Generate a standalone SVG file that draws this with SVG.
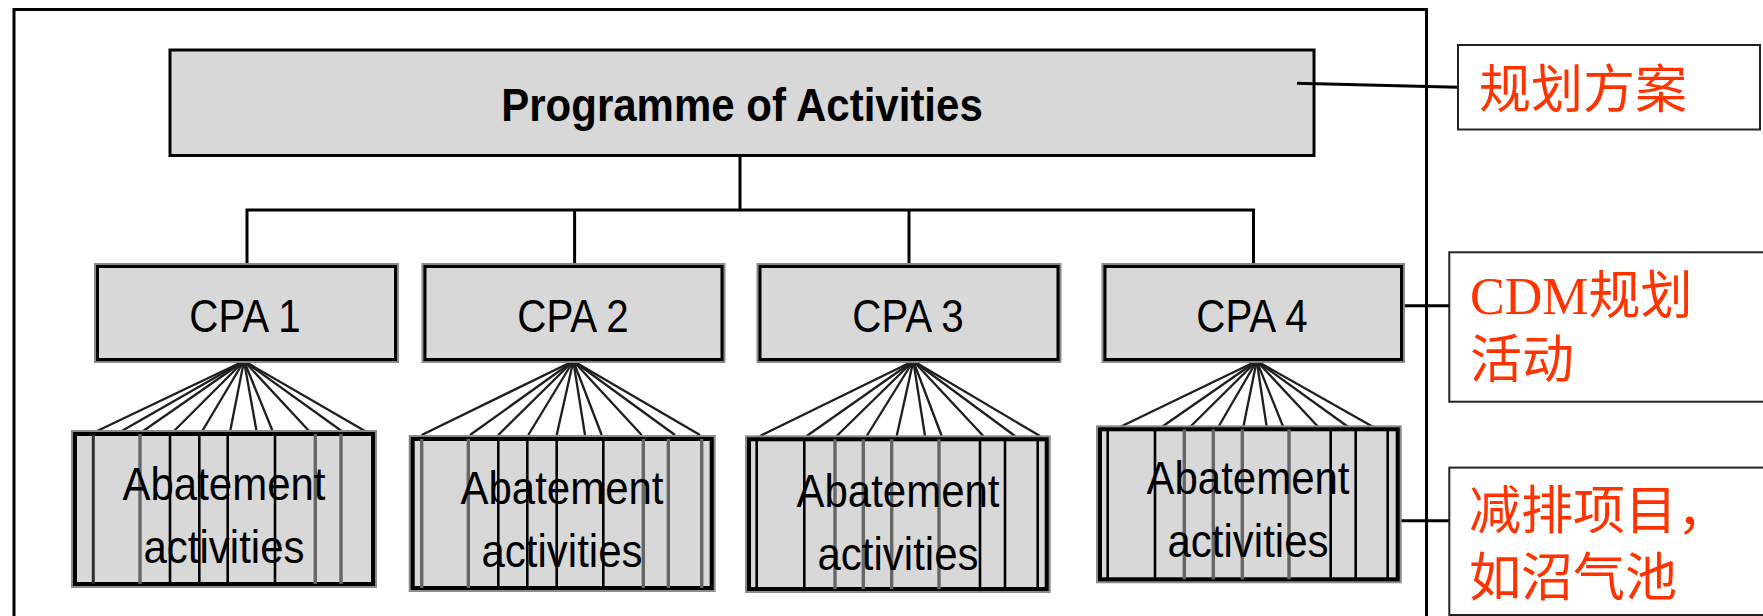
<svg xmlns="http://www.w3.org/2000/svg" width="1763" height="616" viewBox="0 0 1763 616">
<style>
.frame{fill:none;stroke:#000;stroke-width:3}
.box{fill:#d8d8d8;stroke:#000;stroke-width:3}
.shadow{fill:none;stroke:#8a8a8a;stroke-width:7}
.abox{fill:#d8d8d8;stroke:#000;stroke-width:4}
.ashadow{fill:none;stroke:#8c8c8c;stroke-width:8}
.conn{fill:none;stroke:#000;stroke-width:3}
.fan{stroke:#1e1e1e;stroke-width:2.3}
.vb{stroke:#000;stroke-width:2.6}
.vg{stroke:#666;stroke-width:3.4}
.vd{stroke:#2e2e2e;stroke-width:3}
.label{fill:#fff;stroke:#222;stroke-width:2}
.t{font-family:"Liberation Sans",Arial,sans-serif;font-size:42px;fill:#000;text-anchor:middle}
.tb{font-weight:bold}
.zh{font-family:"Liberation Serif","Noto Sans CJK SC",serif;font-size:52px;fill:#ff3300}
</style>

<rect class="frame" x="14" y="9.5" width="1412.5" height="620"/>

<g id="connectors">
  <polyline class="conn" points="740,155 740,210"/>
  <polyline class="conn" points="247,266 247,210 1253.5,210 1253.5,266"/>
  <line class="conn" x1="574.6" y1="210" x2="574.6" y2="266"/>
  <line class="conn" x1="909" y1="210" x2="909" y2="266"/>
  <line class="conn" x1="1297" y1="83.3" x2="1458" y2="87.3"/>
  <line class="conn" x1="1403" y1="305.7" x2="1449" y2="305.7"/>
  <line class="conn" x1="1398" y1="520.7" x2="1457" y2="520.7"/>
  <g id="fan1" class="fan">
    <line x1="244" y1="361" x2="95" y2="432"/><line x1="244" y1="361" x2="120" y2="432"/>
    <line x1="244" y1="361" x2="141.7" y2="432"/><line x1="244" y1="361" x2="173" y2="432"/>
    <line x1="244" y1="361" x2="201.7" y2="432"/><line x1="244" y1="361" x2="230" y2="432"/>
    <line x1="244" y1="361" x2="256.7" y2="432"/><line x1="244" y1="361" x2="273" y2="432"/>
    <line x1="244" y1="361" x2="310" y2="432"/><line x1="244" y1="361" x2="343" y2="432"/>
    <line x1="244" y1="361" x2="366.7" y2="432"/>
  </g>
  <g id="fan2" class="fan">
    <line x1="573.3" y1="361" x2="421.7" y2="435"/><line x1="573.3" y1="361" x2="470" y2="435"/>
    <line x1="573.3" y1="361" x2="498.3" y2="435"/><line x1="573.3" y1="361" x2="528.3" y2="435"/>
    <line x1="573.3" y1="361" x2="556.7" y2="435"/><line x1="573.3" y1="361" x2="585" y2="435"/>
    <line x1="573.3" y1="361" x2="601.7" y2="435"/><line x1="573.3" y1="361" x2="641.7" y2="435"/>
    <line x1="573.3" y1="361" x2="675" y2="435"/><line x1="573.3" y1="361" x2="700" y2="435"/>
  </g>
  <g id="fan3" class="fan">
    <line x1="913.3" y1="361" x2="760" y2="436"/><line x1="913.3" y1="361" x2="806.7" y2="436"/>
    <line x1="913.3" y1="361" x2="836.7" y2="436"/><line x1="913.3" y1="361" x2="866.7" y2="436"/>
    <line x1="913.3" y1="361" x2="896.7" y2="436"/><line x1="913.3" y1="361" x2="925" y2="436"/>
    <line x1="913.3" y1="361" x2="941.7" y2="436"/><line x1="913.3" y1="361" x2="983.3" y2="436"/>
    <line x1="913.3" y1="361" x2="1015" y2="436"/><line x1="913.3" y1="361" x2="1040" y2="436"/>
  </g>
  <g id="fan4" class="fan">
    <line x1="1256.7" y1="361" x2="1120" y2="427"/><line x1="1256.7" y1="361" x2="1161.7" y2="427"/>
    <line x1="1256.7" y1="361" x2="1190" y2="427"/><line x1="1256.7" y1="361" x2="1218.3" y2="427"/>
    <line x1="1256.7" y1="361" x2="1243.3" y2="427"/><line x1="1256.7" y1="361" x2="1266.7" y2="427"/>
    <line x1="1256.7" y1="361" x2="1283.3" y2="427"/><line x1="1256.7" y1="361" x2="1318.3" y2="427"/>
    <line x1="1256.7" y1="361" x2="1348.3" y2="427"/><line x1="1256.7" y1="361" x2="1373.3" y2="427"/>
  </g>
</g>

<g id="poa">
  <rect class="box" x="170" y="50" width="1144" height="105.5"/>
  <line class="conn" x1="1297" y1="83.3" x2="1314" y2="83.7"/>
  <text class="t tb" transform="translate(742,121) scale(1,1.11)">Programme of Activities</text>
</g>

<g id="cpa1">
  <rect class="shadow" x="97.5" y="266.5" width="298" height="93"/>
  <rect class="box" x="97.5" y="266.5" width="298" height="93"/>
  <text class="t" transform="translate(245,331.7) scale(0.96,1.1)">CPA 1</text>
</g>
<g id="cpa2">
  <rect class="shadow" x="425" y="266.5" width="297" height="93"/>
  <rect class="box" x="425" y="266.5" width="297" height="93"/>
  <text class="t" transform="translate(573,331.7) scale(0.96,1.1)">CPA 2</text>
</g>
<g id="cpa3">
  <rect class="shadow" x="760" y="266.5" width="298" height="93"/>
  <rect class="box" x="760" y="266.5" width="298" height="93"/>
  <text class="t" transform="translate(908,331.7) scale(0.96,1.1)">CPA 3</text>
</g>
<g id="cpa4">
  <rect class="shadow" x="1105" y="266.5" width="296.5" height="93"/>
  <rect class="box" x="1105" y="266.5" width="296.5" height="93"/>
  <text class="t" transform="translate(1252,331.7) scale(0.96,1.1)">CPA 4</text>
</g>

<g id="abate1">
  <rect class="ashadow" x="75" y="434" width="298" height="150" stroke="#c8c8c8"/>
  <rect class="abox" x="75" y="434" width="298" height="150"/>
  <line class="vd" x1="93.3" y1="434" x2="93.3" y2="584"/>
  <line class="vg" x1="140" y1="434" x2="140" y2="584"/>
  <line class="vb" x1="170" y1="434" x2="170" y2="584"/>
  <line class="vb" x1="199.3" y1="434" x2="199.3" y2="584"/>
  <line class="vb" x1="227.7" y1="434" x2="227.7" y2="584"/>
  <line class="vb" x1="275" y1="434" x2="275" y2="584"/>
  <line class="vg" x1="315.3" y1="434" x2="315.3" y2="584"/>
  <line class="vg" x1="341" y1="434" x2="341" y2="584"/>
  <text class="t" transform="translate(224,500) scale(1,1.12)">Abatement</text>
  <text class="t" transform="translate(224,563.3) scale(1,1.12)">activities</text>
</g>
<g id="abate2">
  <rect class="ashadow" x="412.7" y="439" width="299" height="149"/>
  <rect class="abox" x="412.7" y="439" width="299" height="149" stroke="#1a1a1a"/>
  <line class="vg" x1="421.7" y1="439" x2="421.7" y2="588"/>
  <line class="vg" x1="468.3" y1="439" x2="468.3" y2="588"/>
  <line class="vb" x1="498.3" y1="439" x2="498.3" y2="588"/>
  <line class="vb" x1="527.3" y1="439" x2="527.3" y2="588"/>
  <line class="vb" x1="556.7" y1="439" x2="556.7" y2="588"/>
  <line class="vb" x1="603.3" y1="439" x2="603.3" y2="588"/>
  <line class="vg" x1="643.3" y1="439" x2="643.3" y2="588"/>
  <line class="vg" x1="668.3" y1="439" x2="668.3" y2="588"/>
  <line class="vg" x1="701.7" y1="439" x2="701.7" y2="588"/>
  <text class="t" transform="translate(562,504) scale(1,1.12)">Abatement</text>
  <text class="t" transform="translate(562,566.7) scale(1,1.12)">activities</text>
</g>
<g id="abate3">
  <rect class="ashadow" x="749" y="439.3" width="297.7" height="149.7"/>
  <rect class="abox" x="749" y="439.3" width="297.7" height="149.7" stroke="#1a1a1a"/>
  <line class="vb" x1="756.7" y1="439.3" x2="756.7" y2="589"/>
  <line class="vb" x1="804.3" y1="439.3" x2="804.3" y2="589"/>
  <line class="vg" x1="835" y1="439.3" x2="835" y2="589"/>
  <line class="vg" x1="863.3" y1="439.3" x2="863.3" y2="589"/>
  <line class="vg" x1="891.7" y1="439.3" x2="891.7" y2="589"/>
  <line class="vg" x1="939" y1="439.3" x2="939" y2="589"/>
  <line class="vb" x1="980" y1="439.3" x2="980" y2="589"/>
  <line class="vb" x1="1005" y1="439.3" x2="1005" y2="589"/>
  <line class="vb" x1="1037.7" y1="439.3" x2="1037.7" y2="589"/>
  <text class="t" transform="translate(898,506.7) scale(1,1.12)">Abatement</text>
  <text class="t" transform="translate(898,570) scale(1,1.12)">activities</text>
</g>
<g id="abate4">
  <rect class="ashadow" x="1100" y="429.3" width="297.7" height="150"/>
  <rect class="abox" x="1100" y="429.3" width="297.7" height="150"/>
  <line class="vb" x1="1107.7" y1="429.3" x2="1107.7" y2="579.3"/>
  <line class="vb" x1="1155" y1="429.3" x2="1155" y2="579.3"/>
  <line class="vg" x1="1184.3" y1="429.3" x2="1184.3" y2="579.3"/>
  <line class="vg" x1="1213.3" y1="429.3" x2="1213.3" y2="579.3"/>
  <line class="vg" x1="1242.3" y1="429.3" x2="1242.3" y2="579.3"/>
  <line class="vg" x1="1289" y1="429.3" x2="1289" y2="579.3"/>
  <line class="vb" x1="1330.7" y1="429.3" x2="1330.7" y2="579.3"/>
  <line class="vb" x1="1355.7" y1="429.3" x2="1355.7" y2="579.3"/>
  <line class="vb" x1="1387.7" y1="429.3" x2="1387.7" y2="579.3"/>
  <text class="t" transform="translate(1248,494) scale(1,1.12)">Abatement</text>
  <text class="t" transform="translate(1248,556.7) scale(1,1.12)">activities</text>
</g>

<g id="label-poa">
  <rect class="label" x="1458" y="45" width="302" height="84.5"/>
  <text class="zh" x="1479" y="108">规划方案</text>
</g>
<g id="label-cpa">
  <rect class="label" x="1449.3" y="252.3" width="330" height="149.4"/>
  <text class="zh" x="1470" y="313.5">CDM规划</text>
  <text class="zh" x="1470" y="378">活动</text>
</g>
<g id="label-abate">
  <rect class="label" x="1449.3" y="467.6" width="330" height="147.4"/>
  <text class="zh" x="1469" y="528.5">减排项目，</text>
  <text class="zh" x="1469" y="595.5">如沼气池</text>
</g>
</svg>
